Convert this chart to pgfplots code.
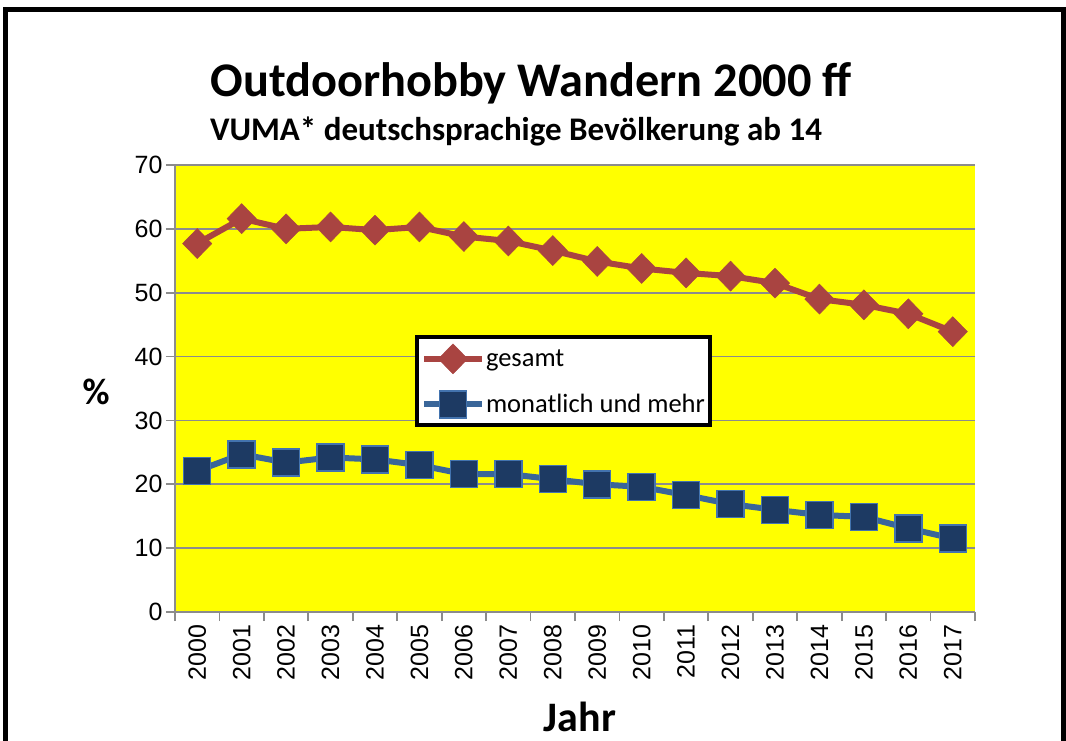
\documentclass[border=0pt]{standalone}
\usepackage{fontspec}
\setmainfont{Carlito}
\newfontfamily\tickfont{Liberation Sans}
\usepackage{pgfplots}
\pgfplotsset{compat=1.18}
\definecolor{redline}{HTML}{A94441}
\definecolor{blueline}{HTML}{3A6699}
\definecolor{bluemark}{HTML}{1D3A63}
\definecolor{blueedge}{HTML}{4373AE}
\definecolor{gridgray}{HTML}{8C8C8C}
\definecolor{ybg}{RGB}{255,255,0}
\begin{document}
\begin{tikzpicture}[x=1pt,y=1pt]
\useasboundingbox (0,0) rectangle (1066,740);
\draw[line width=5pt] (5.5,-5) -- (5.5,730.5) -- (1063.5,730.5) -- (1063.5,-5);
\node[font=\fontsize{48.3}{52}\selectfont\bfseries] at (531,657) {Outdoorhobby Wandern 2000 ff};
\node[font=\fontsize{33}{36}\selectfont\bfseries] at (516,609) {VUMA* deutschsprachige Bevölkerung ab 14};
\node[font=\fontsize{37}{40}\selectfont\bfseries] at (96,348) {\%};
\node[font=\fontsize{42}{45}\selectfont\bfseries, anchor=base] at (580,9) {Jahr};
\begin{axis}[
  at={(175pt,128pt)}, anchor=south west,
  width=800pt, height=447pt, scale only axis,
  xmin=-0.5, xmax=17.5, ymin=0, ymax=70,
  axis background/.style={fill=ybg},
  axis x line*=bottom, axis y line*=left,
  axis line style={gridgray, line width=1.8pt},
  xtick={0,...,17},
  xticklabels={2000,2001,2002,2003,2004,2005,2006,2007,2008,2009,2010,2011,2012,2013,2014,2015,2016,2017},
  minor xtick={-0.5,0.5,...,17.5},
  major x tick style={draw=none},
  minor x tick style={gridgray, line width=1.8pt},
  minor tick length=9pt,
  ytick={0,10,...,70},
  major y tick style={gridgray, line width=1.8pt},
  major tick length=9pt,
  tick align=outside,
  ymajorgrids,
  major grid style={gridgray, line width=1.8pt},
  /pgf/number format/assume math mode=true,
  ticklabel style={font=\tickfont\fontsize{25}{28}\selectfont},
  xticklabel style={rotate=90, anchor=east},
  xtick pos=bottom, ytick pos=left,
  legend style={at={(0.3,0.62)}, anchor=north west, draw=black, line width=4pt, fill=white,
    font=\fontsize{26.5}{30}\selectfont, inner xsep=4pt, inner ysep=7pt,
    row sep=17pt, nodes={inner sep=1pt}},
  legend cell align=left,
  legend image code/.code={\draw[mark repeat=2,mark phase=2,#1] plot coordinates {(0pt,0pt) (29pt,0pt) (58pt,0pt)};},
]
\addplot[redline, line width=6pt, mark=diamond*, mark size=15pt,
  mark options={fill=redline, draw=redline, line width=0.5pt, xscale=1.3}]
coordinates {(0,57.7) (1,61.6) (2,60.0) (3,60.3) (4,59.8) (5,60.3) (6,58.8) (7,58.1) (8,56.6)
 (9,54.9) (10,53.8) (11,53.1) (12,52.6) (13,51.5) (14,49.0) (15,48.1) (16,46.7) (17,43.9)};
\addlegendentry{gesamt}
\addplot[blueline, line width=6pt, mark=square*, mark size=13.5pt,
  mark options={fill=bluemark, draw=blueedge, line width=1.5pt}]
coordinates {(0,22.1) (1,24.7) (2,23.4) (3,24.2) (4,23.9) (5,23.0) (6,21.6) (7,21.6) (8,20.8)
 (9,20.0) (10,19.6) (11,18.3) (12,16.9) (13,16.0) (14,15.2) (15,14.9) (16,13.1) (17,11.5)};
\addlegendentry{monatlich und mehr}
\end{axis}
\end{tikzpicture}
\end{document}
